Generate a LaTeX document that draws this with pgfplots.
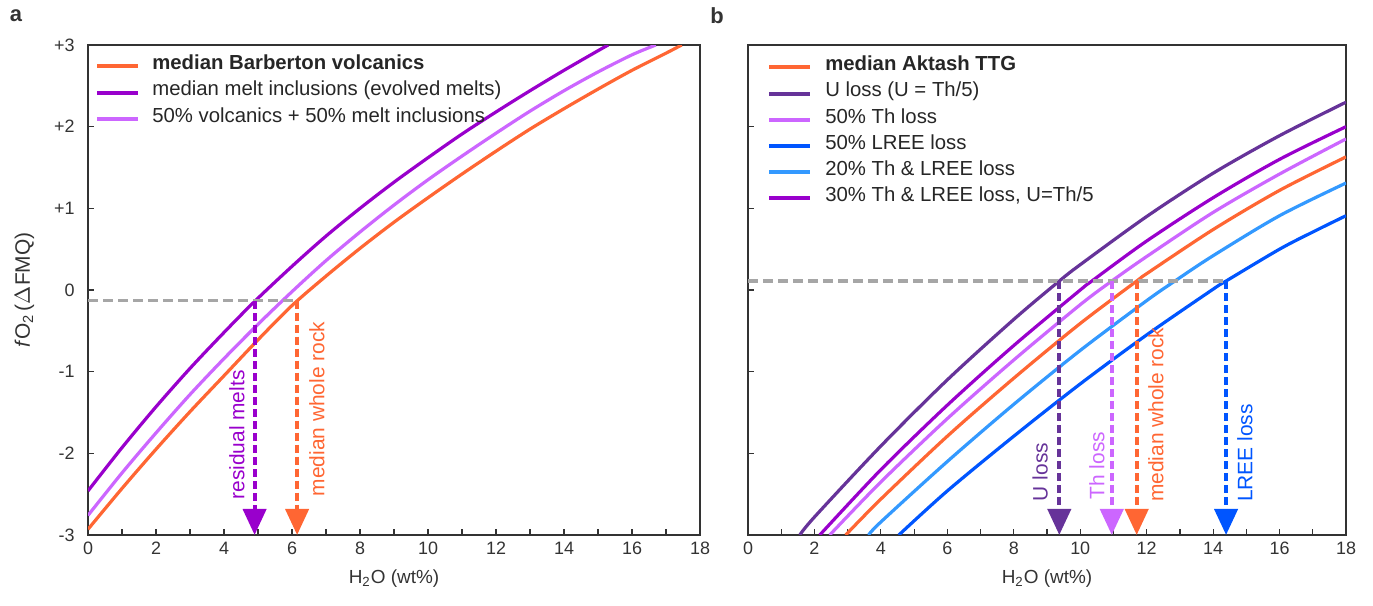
\documentclass[border=0pt]{standalone}
\usepackage{fontspec}
\setmainfont{Liberation Sans}
\usepackage{pgfplots}
\pgfplotsset{compat=1.18}
\usetikzlibrary{arrows.meta}

\definecolor{cOrange}{HTML}{FF6633}
\definecolor{cDarkPurple}{HTML}{663399}
\definecolor{cPurple}{HTML}{9900CC}
\definecolor{cLilac}{HTML}{CC66FF}
\definecolor{cBlue}{HTML}{0055FF}
\definecolor{cSky}{HTML}{3399FF}
\definecolor{cGray}{HTML}{A6A6A6}
\definecolor{cAxis}{HTML}{333333}

\tikzset{
  tag/.style={rotate=90, anchor=west, inner sep=0pt, text=#1,
    font=\fontsize{10.5}{12}\selectfont},
}

\pgfplotsset{
  panel/.style={
    scale only axis, height=245bp,
    xmin=0, xmax=18, ymin=-3, ymax=3,
    axis line style={cAxis, line width=0.7bp},
    xtick={0,2,...,18}, minor xtick={1,3,...,17},
    ytick={-3,-2,...,3},
    tick align=inside, major tick length=3bp, minor tick length=3bp,
    every tick/.style={cAxis, line width=0.6bp},
    xtick pos=bottom, ytick pos=left,
    tick label style={font=\fontsize{9}{10}\selectfont, text=cAxis},
    /pgf/number format/assume math mode=true,
    xticklabel style={anchor=north, inner sep=0pt, yshift=-3.2bp},
    yticklabel style={anchor=east, inner sep=0pt, xshift=-6.5bp},
    xlabel={H\textsubscript{2}O (wt\%)},
    every axis x label/.style={at={(axis description cs:0.5,-0.088)}, anchor=center,
      font=\fontsize{9.5}{11}\selectfont, text=cAxis},
    legend cell align=left,
    legend image code/.code={\draw[#1, line width=2bp] (0bp,0bp) -- (20.5bp,0bp);},
  },
  curve/.style={line width=1.6bp, smooth},
  guide/.style={cGray, line width=1.7bp, dash pattern=on 5bp off 2.5bp, forget plot},
  drop/.style={#1, line width=2bp, dash pattern=on 4bp off 2bp,
    -{Triangle[width=11.5bp,length=13bp]}, forget plot},
}

\begin{document}
\begin{tikzpicture}
\path[use as bounding box] (0,0) rectangle (686.5bp,303bp);

\node[font=\bfseries\fontsize{11}{13}\selectfont, text=cAxis] at (8bp,295bp) {a};
\node[font=\bfseries\fontsize{11}{13}\selectfont, text=cAxis] at (358.5bp,295bp) {b};

% Panel a: Barberton volcanics and melt inclusions
\begin{axis}[panel, width=306bp, at={(44bp,35.5bp)}, anchor=south west,
  yticklabels={-3,-2,-1,0,+1,+2,+3},
  ylabel={\textit{f}O\textsubscript{2}\,(\(\Delta\)FMQ)},
  every axis y label/.style={at={(axis description cs:-0.104,0.5)}, rotate=90,
    anchor=center, font=\fontsize{10.5}{12}\selectfont, text=cAxis},
  legend style={draw=none, fill=none, anchor=north west,
    at={(axis description cs:0.0016,0.992)},
    font=\fontsize{10.2}{12}\selectfont, text=black!85,
    row sep=0.6bp, column sep=6bp,
    nodes={inner sep=0pt, text height=8bp, text depth=4.7bp}},
]
\addplot[curve, cOrange] coordinates {
  (0,-2.93) (1,-2.43) (2,-1.95) (3,-1.49) (4,-1.05) (5,-0.61) (6,-0.19)
  (7,0.17) (8,0.51) (9,0.83) (10,1.13) (11,1.42) (12,1.70) (13,1.97)
  (14,2.22) (15,2.46) (16,2.69) (17,2.90) (17.46,3.0)};
\addlegendentry{\textbf{median Barberton volcanics}}
\addplot[curve, cPurple] coordinates {
  (0,-2.46) (1,-1.93) (2,-1.43) (3,-0.96) (4,-0.52) (4.9,-0.14) (6,0.29)
  (7,0.66) (8,1.00) (9,1.32) (10,1.62) (11,1.91) (12,2.18) (13,2.44)
  (14,2.69) (15,2.93) (15.3,3.0)};
\addlegendentry{median melt inclusions (evolved melts)}
\addplot[curve, cLilac] coordinates {
  (0,-2.76) (1,-2.24) (2,-1.75) (3,-1.28) (4,-0.84) (5,-0.42) (6,-0.02)
  (7,0.36) (8,0.71) (9,1.04) (10,1.35) (11,1.64) (12,1.92) (13,2.19)
  (14,2.44) (15,2.67) (16,2.88) (16.7,3.0)};
\addlegendentry{50\% volcanics + 50\% melt inclusions}

\addplot[guide] coordinates {(0,-0.13) (6.15,-0.13)};
\addplot[drop=cPurple] coordinates {(4.9,-0.14) (4.9,-3)};
\addplot[drop=cOrange] coordinates {(6.15,-0.13) (6.15,-3)};
\node[tag=cPurple] at (axis cs:4.38,-2.57) {residual melts};
\node[tag=cOrange] at (axis cs:6.73,-2.53) {median whole rock};
\end{axis}

% Panel b: Aktash TTG with element-loss scenarios
\begin{axis}[panel, width=299bp, at={(374bp,35.5bp)}, anchor=south west,
  yticklabels={},
  legend style={draw=none, fill=none, anchor=north west,
    at={(axis description cs:0.0216,0.989)},
    font=\fontsize{10.2}{12}\selectfont, text=black!85,
    row sep=0.4bp, column sep=6.5bp,
    nodes={inner sep=0pt, text height=8bp, text depth=4.7bp}},
]
\addplot[curve, cOrange] coordinates {
  (2.94,-3) (4,-2.56) (6,-1.79) (8,-1.08) (10,-0.41) (11.70,0.11)
  (12,0.20) (14,0.74) (16,1.22) (18,1.63)};
\addlegendentry{\textbf{median Aktash TTG}}
\addplot[curve, cDarkPurple] coordinates {
  (1.56,-3) (2,-2.78) (4,-1.91) (6,-1.10) (8,-0.36) (9.37,0.11)
  (10,0.31) (12,0.90) (14,1.43) (16,1.89) (18,2.30)};
\addlegendentry{U loss (U = Th/5)}
\addplot[curve, cLilac] coordinates {
  (2.46,-3) (4,-2.35) (6,-1.575) (8,-0.857) (10,-0.18) (10.95,0.11)
  (12,0.41) (14,0.95) (16,1.42) (18,1.85)};
\addlegendentry{50\% Th loss}
\addplot[curve, cBlue] coordinates {
  (4.54,-3) (6,-2.46) (8,-1.79) (10,-1.15) (12,-0.55) (14,0.01)
  (14.39,0.11) (16,0.50) (17,0.71) (18,0.91)};
\addlegendentry{50\% LREE loss}
\addplot[curve, cSky] coordinates {
  (3.63,-3) (4,-2.84) (6,-2.10) (8,-1.40) (10,-0.74) (12,-0.13)
  (12.85,0.11) (14,0.42) (16,0.91) (18,1.31)};
\addlegendentry{20\% Th \& LREE loss}
\addplot[curve, cPurple] coordinates {
  (2.16,-3) (4,-2.20) (6,-1.41) (8,-0.68) (10,0.00) (10.35,0.11)
  (12,0.60) (14,1.13) (16,1.60) (18,2.00)};
\addlegendentry{30\% Th \& LREE loss, U=Th/5}

\addplot[guide] coordinates {(0,0.11) (14.39,0.11)};
\addplot[drop=cDarkPurple] coordinates {(9.37,0.11) (9.37,-3)};
\addplot[drop=cLilac] coordinates {(10.95,0.11) (10.95,-3)};
\addplot[drop=cOrange] coordinates {(11.70,0.11) (11.70,-3)};
\addplot[drop=cBlue] coordinates {(14.39,0.11) (14.39,-3)};
\node[tag=cDarkPurple] at (axis cs:8.79,-2.59) {U loss};
\node[tag=cLilac] at (axis cs:10.50,-2.57) {Th loss};
\node[tag=cOrange] at (axis cs:12.28,-2.60) {median whole rock};
\node[tag=cBlue] at (axis cs:14.96,-2.60) {LREE loss};
\end{axis}
\end{tikzpicture}
\end{document}
